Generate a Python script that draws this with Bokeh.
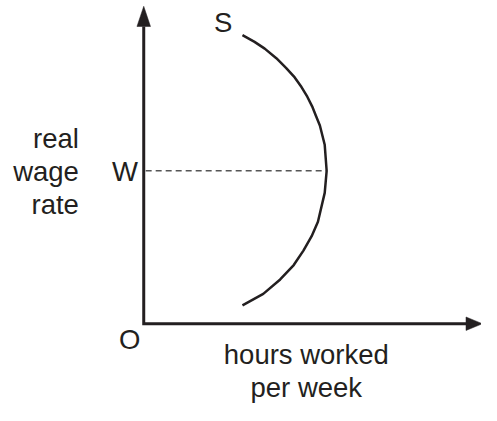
from bokeh.plotting import figure
from bokeh.models import Range1d
from bokeh.embed import file_html
from bokeh.resources import INLINE
from bokeh.core.properties import value

# ---- data (chart units: hours on x, real wage on y, origin at O) ----
curve_hours = [102, 114.5, 125, 137, 147, 156, 163, 169, 174, 178, 182, 187, 189,
               187, 180, 173.5, 165, 155, 141, 123.5, 102]
curve_wage = [300, 293, 286, 276, 266, 256, 246, 236, 226, 216, 206, 186, 159,
              136, 106, 91, 76, 61, 46, 31, 19]
w_level = 159            # wage level W
w_curve_hours = 189      # point where W meets the curve
axis_hours_max = 333     # end of hours axis line (arrow base)
axis_wage_max = 309      # end of wage axis line (arrow base)

y_label_lines = ["real", "wage", "rate"]
x_label_lines = ["hours worked", "per week"]

# ---- figure ----
INK = "#231f20"
FONT = value("Liberation Sans")
FS = "27.5px"

p = figure(width=481, height=405, output_backend="svg", toolbar_location=None,
           x_range=Range1d(-148, 349), y_range=Range1d(-85, 336),
           x_axis_type=None, y_axis_type=None, min_border=0)
p.outline_line_color = None
p.grid.visible = False
p.background_fill_color = "white"
p.border_fill_color = "white"

# axes as polyline
p.line([0, 0, axis_hours_max], [axis_wage_max, 0, 0], line_color=INK,
       line_width=3, line_join="miter")

# arrow heads
head_len_y, head_len_x, half_w = 21, 17, 7
p.patch([-half_w, 0, half_w], [axis_wage_max, axis_wage_max + head_len_y, axis_wage_max],
        fill_color=INK, line_color=INK, line_width=0.5)
p.patch([axis_hours_max, axis_hours_max + head_len_x, axis_hours_max], [half_w, 0, -half_w],
        fill_color=INK, line_color=INK, line_width=0.5)

# dashed W line
p.line([2, w_curve_hours], [w_level, w_level], line_color="#555555",
       line_width=1.4, line_dash="6 4")

# supply curve
p.line(curve_hours, curve_wage, line_color=INK, line_width=2.5, line_cap="butt")

TXT = "#231f20"
kw = dict(text_baseline="alphabetic", text_font=FONT, text_font_size=FS, text_color=TXT)
# S label
p.text(x=[82], y=[313], text=["S"], text_align="center", **kw)
# W label
p.text(x=[-6], y=[w_level - 1], text=["W"], text_align="right", **kw)
# O label
p.text(x=[-14.5], y=[-16.5], text=["O"], text_align="center", **kw)
# y-axis title
p.text(x=[-67] * 3, y=[193, 158, 124], text=y_label_lines, text_align="right", **kw)
# x-axis title
p.text(x=[168, 168], y=[-31.5, -66.3], text=x_label_lines, text_align="center", **kw)

open("out.html", "w").write(file_html(p, INLINE))
